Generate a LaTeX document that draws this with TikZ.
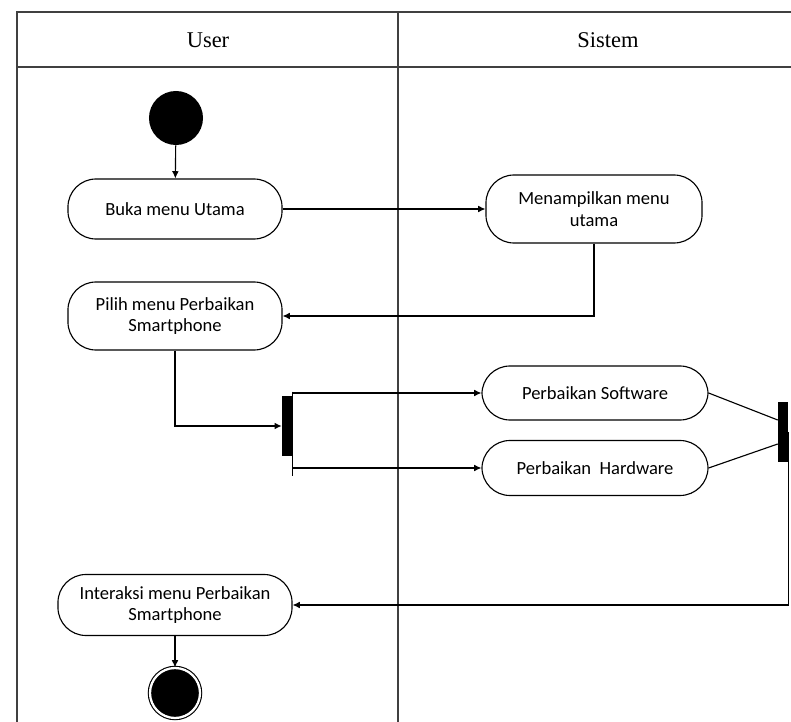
\documentclass[tikz,border=0pt]{standalone}
\usepackage{fontspec}
\setmainfont{Liberation Serif}
\newfontfamily\actfont{Carlito}
\usetikzlibrary{arrows.meta}

\begin{document}
\begin{tikzpicture}[x=0.025cm,y=-0.025cm,
  act/.style={draw,thick,rounded corners=0.7cm,align=center,
    font=\actfont\fontsize{13.2}{15.5}\selectfont,inner sep=2pt},
  bar/.style={fill=black,minimum width=0.25cm,minimum height=1.5cm,inner sep=0pt},
  flow/.style={-{Latex[length=1.8mm,width=1.7mm]},thick}]
\useasboundingbox (0,0) rectangle (791,722);
\clip (0,0) rectangle (791,722);

% lanes
\draw [thick,black!75] (17,12) rectangle (818,760);
\draw [thick,black!75] (17,67) to (818,67);
\draw [thick,black!75] (398,12) to (398,760);
\node (user) at (208,40) {\fontsize{16}{18}\selectfont User};
\node (sistem) at (608,40) {\fontsize{16}{18}\selectfont Sistem};

% activities
\node [circle,fill=black,minimum size=1.35cm,inner sep=0pt] (start) at (176,118) {};
\node [act,minimum width=5.35cm,minimum height=1.5cm] (buka) at (175,209) {Buka menu Utama};
\node [act,minimum width=5.4cm,minimum height=1.7cm] (tampil) at (594,209) {Menampilkan menu\\utama};
\node [act,minimum width=5.35cm,minimum height=1.7cm] (pilih) at (175,316) {Pilih menu Perbaikan\\Smartphone};
\node [bar] (fork) at (287,426) {};
\node [act,minimum width=5.65cm,minimum height=1.35cm] (soft) at (595,393) {Perbaikan Software};
\node [act,minimum width=5.65cm,minimum height=1.375cm] (hard) at (595,468) {Perbaikan~~Hardware};
\node [bar] (join) at (783,432) {};
\node [act,minimum width=5.85cm,minimum height=1.525cm] (inter) at (175,605) {Interaksi menu Perbaikan\\Smartphone};
\node [circle,fill=black,draw,double=white,double distance=1.6pt,line width=0.8pt,
  minimum size=1.25cm,inner sep=0pt] (end) at (175,693) {};

% flows
\draw [flow] (start) to (buka);
\draw [flow] (buka) to (tampil);
\draw [flow] (tampil.south) |- (pilih.east);
\draw [flow] (pilih.south) |- (fork.west);
\draw [thick] ([yshift=0.1cm]fork.north east) to ([yshift=-0.5cm]fork.south east);
\draw [flow] (fork.east |- soft) to (soft);
\draw [flow] (fork.east |- hard) to (hard);
\draw [thick] (soft.east) to ([yshift=0.3cm]join.west);
\draw [thick] (hard.east) to ([yshift=-0.3cm]join.west);
\draw [flow] (join.east) |- (inter.east);
\draw [flow] (inter) to (end);

\end{tikzpicture}
\end{document}
